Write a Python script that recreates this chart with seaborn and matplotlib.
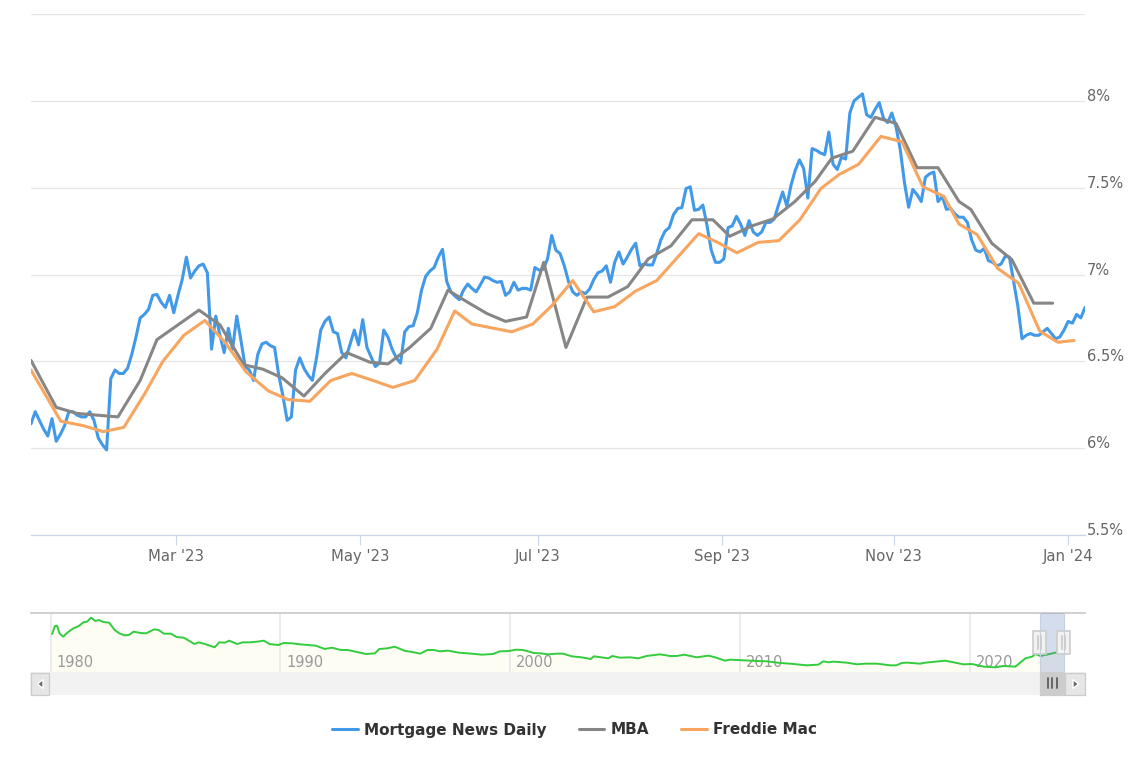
import numpy as np
import pandas as pd
import matplotlib
matplotlib.use("Agg")
import matplotlib.pyplot as plt
import seaborn as sns
from matplotlib.patches import Rectangle, Polygon


# DATA

# daily series, one value per trading session
mnd_rates = [
    6.14, 6.21, 6.16, 6.11, 6.07, 6.17, 6.04, 6.08, 6.13, 6.21,
    6.21, 6.19, 6.18, 6.18, 6.21, 6.16, 6.06, 6.02, 5.99, 6.40,
    6.45, 6.43, 6.43, 6.46, 6.54, 6.64, 6.75, 6.77, 6.80, 6.88,
    6.885, 6.84, 6.81, 6.88, 6.78, 6.88, 6.97, 7.10, 6.98, 7.02,
    7.05, 7.06, 7.01, 6.57, 6.76, 6.65, 6.55, 6.69, 6.57, 6.76,
    6.62, 6.47, 6.45, 6.39, 6.54, 6.60, 6.61, 6.59, 6.58, 6.42,
    6.30, 6.16, 6.18, 6.45, 6.52, 6.46, 6.42, 6.39, 6.52, 6.68,
    6.73, 6.755, 6.67, 6.66, 6.55, 6.52, 6.60, 6.68, 6.595, 6.74,
    6.58, 6.525, 6.47, 6.49, 6.68, 6.64, 6.57, 6.52, 6.49, 6.67,
    6.70, 6.705, 6.78, 6.91, 6.99, 7.02, 7.04, 7.10, 7.145, 6.96,
    6.90, 6.875, 6.855, 6.91, 6.945, 6.92, 6.90, 6.94, 6.985, 6.98,
    6.965, 6.955, 6.96, 6.88, 6.90, 6.955, 6.91, 6.92, 6.92, 6.91,
    7.04, 7.025, 7.03, 7.09, 7.225, 7.14, 7.12, 7.05, 6.96, 6.90,
    6.88, 6.90, 6.89, 6.915, 6.97, 7.01, 7.02, 7.05, 6.955, 7.07,
    7.13, 7.06, 7.10, 7.145, 7.18, 7.05, 7.06, 7.055, 7.055, 7.12,
    7.20, 7.25, 7.27, 7.345, 7.38, 7.385, 7.495, 7.505, 7.37, 7.375,
    7.40, 7.28, 7.14, 7.07, 7.07, 7.09, 7.27, 7.28, 7.335, 7.29,
    7.225, 7.31, 7.245, 7.225, 7.245, 7.30, 7.30, 7.32, 7.40, 7.475,
    7.395, 7.515, 7.60, 7.66, 7.61, 7.44, 7.725, 7.715, 7.70, 7.69,
    7.82, 7.635, 7.605, 7.675, 7.665, 7.93, 8.00, 8.02, 8.04, 7.92,
    7.905, 7.95, 7.99, 7.90, 7.875, 7.93, 7.85, 7.72, 7.53, 7.387,
    7.49, 7.46, 7.42, 7.56, 7.58, 7.59, 7.42, 7.45, 7.375, 7.38,
    7.35, 7.33, 7.33, 7.30, 7.20, 7.14, 7.13, 7.15, 7.08, 7.07,
    7.05, 7.06, 7.105, 7.10, 6.96, 6.82, 6.63, 6.65, 6.66, 6.65,
    6.65, 6.67, 6.69, 6.66, 6.63, 6.64, 6.68, 6.73, 6.72, 6.77, 6.75, 6.81,
]

# weekly surveys, placed on the same session axis
mba_sessions = [
    0, 6, 11, 20.7, 26, 30, 35, 40, 45, 50.7, 55.2, 59.8, 65, 70, 75.2, 80.7,
    85, 90.2, 95.2, 99.3, 104, 108.6, 113, 118, 122.1, 127.4, 132.4, 137.4,
    142.1, 147, 152.4, 157.4, 162.4, 166.4, 171.7, 176.7, 181.9, 186.7, 190.7,
    195.7, 201, 206, 211, 216, 221, 223.8, 228.8, 233.6, 238.8, 243.3,
]
mba_rates = [
    6.505, 6.235, 6.20, 6.18, 6.39, 6.625, 6.71, 6.795, 6.71, 6.48, 6.455,
    6.405, 6.30, 6.43, 6.55, 6.495, 6.485, 6.58, 6.69, 6.91, 6.84, 6.775,
    6.73, 6.755, 7.07, 6.58, 6.87, 6.87, 6.93, 7.09, 7.165, 7.315, 7.315,
    7.22, 7.28, 7.32, 7.42, 7.535, 7.67, 7.71, 7.905, 7.87, 7.615, 7.615,
    7.42, 7.375, 7.18, 7.085, 6.835, 6.835,
]

freddie_sessions = [
    0, 7.1, 12.4, 17.2, 22.1, 27, 31.4, 36.4, 41.4, 46.2, 51.2, 56.5, 61.2,
    66.4, 71.4, 76.4, 81.4, 86.2, 91.4, 96.7, 100.9, 105, 114.5, 119.5, 124,
    129, 134, 139, 144, 149, 154, 159, 163.5, 168.1, 173.2, 178.1, 183.1,
    188.1, 192.4, 197.1, 202.4, 207.4, 212.4, 217.4, 221, 225.3, 230.2, 235.2,
    240.2, 244.5, 248.4,
]
freddie_rates = [
    6.45, 6.155, 6.13, 6.095, 6.12, 6.31, 6.50, 6.65, 6.735, 6.61, 6.44, 6.33,
    6.28, 6.27, 6.39, 6.43, 6.39, 6.35, 6.39, 6.57, 6.79, 6.715, 6.67, 6.715,
    6.82, 6.965, 6.785, 6.815, 6.905, 6.965, 7.10, 7.235, 7.185, 7.125, 7.185,
    7.195, 7.315, 7.495, 7.575, 7.635, 7.795, 7.765, 7.505, 7.45, 7.29, 7.23,
    7.035, 6.95, 6.675, 6.61, 6.62,
]

# long history in the navigator
nav_years = [
    1980.07, 1980.19, 1980.28, 1980.39, 1980.55, 1980.73, 1980.97, 1981.23,
    1981.43, 1981.59, 1981.76, 1981.95, 1982.10, 1982.29, 1982.55, 1982.79,
    1982.99, 1983.22, 1983.41, 1983.61, 1983.92, 1984.16, 1984.51, 1984.70,
    1984.93, 1985.24, 1985.48, 1985.79, 1986.02, 1986.26, 1986.44, 1986.72,
    1987.14, 1987.34, 1987.58, 1987.77, 1988.12, 1988.36, 1988.67, 1988.98,
    1989.29, 1989.52, 1989.91, 1990.14, 1990.53, 1990.84, 1991.54, 1991.93,
    1992.24, 1992.63, 1992.94, 1993.33, 1993.72, 1994.11, 1994.30, 1994.65,
    1994.97, 1995.43, 1995.67, 1996.08, 1996.40, 1996.68, 1996.94, 1997.30,
    1997.76, 1998.15, 1998.77, 1999.24, 1999.55, 1999.94, 2000.25, 2000.56,
    2001.03, 2001.29, 2001.65, 2002.02, 2002.30, 2002.67, 2003.10, 2003.50,
    2003.64, 2003.97, 2004.26, 2004.44, 2004.77, 2005.21, 2005.57, 2005.93,
    2006.51, 2006.95, 2007.24, 2007.56, 2008.11, 2008.62, 2008.91, 2009.34,
    2009.56, 2010.14, 2010.72, 2011.16, 2011.73, 2012.17, 2012.90, 2013.40,
    2013.62, 2013.84, 2014.06, 2014.64, 2015.08, 2015.44, 2015.95, 2016.53,
    2016.79, 2017.03, 2017.25, 2017.83, 2018.05, 2018.92, 2019.72, 2020.08,
    2020.59, 2021.10, 2021.45, 2021.97, 2022.41, 2022.70, 2022.84, 2023.06,
    2023.79, 2024.06,
]
nav_rates = [
    13.33, 15.92, 16.03, 13.55, 12.47, 13.76, 15.06, 15.92, 17.11, 17.32,
    18.62, 17.54, 17.86, 17.21, 17.00, 14.62, 13.55, 12.90, 13.01, 14.09,
    13.65, 13.55, 14.84, 14.62, 13.44, 13.44, 12.36, 12.14, 11.17, 10.09,
    10.63, 10.09, 9.02, 10.63, 10.53, 11.17, 10.09, 10.63, 10.63, 10.85,
    11.17, 10.09, 9.77, 10.42, 10.31, 9.99, 9.56, 8.48, 8.91, 8.15, 8.15,
    7.51, 6.86, 7.07, 8.48, 8.69, 9.23, 7.83, 7.61, 6.97, 8.15, 8.15, 7.72,
    7.94, 7.29, 7.07, 6.64, 6.86, 7.72, 7.83, 8.26, 8.15, 7.18, 7.08, 6.75,
    6.97, 6.97, 6.11, 5.78, 5.24, 6.11, 5.78, 5.46, 6.21, 5.67, 5.78, 5.46,
    6.21, 6.75, 6.21, 6.21, 6.64, 5.78, 6.32, 5.78, 4.70, 5.03, 4.81, 4.60,
    4.49, 3.95, 3.73, 3.19, 3.41, 4.49, 4.17, 4.38, 4.06, 3.52, 3.73, 3.73,
    3.19, 3.19, 3.95, 4.06, 3.73, 4.05, 4.70, 3.51, 3.62, 2.76, 2.54, 2.97,
    2.76, 5.46, 6.00, 6.86, 6.21, 7.40, 7.07,
]

month_ticks = [34.5, 78.3, 120.7, 164.5, 205.5, 246.9]
month_labels = ["Mar '23", "May '23", "Jul '23", "Sep '23", "Nov '23", "Jan '24"]

rate_ticks = [5.5, 6, 6.5, 7, 7.5, 8, 8.5]
rate_labels = ["5.5%", "6%", "6.5%", "7%", "7.5%", "8%", ""]

nav_ticks = [1980, 1990, 2000, 2010, 2020]


# STYLE

sns.set_theme(style="white")
plt.rcParams["font.family"] = ["DejaVu Sans"]

BLUE = "#4299e8"
GREY = "#868686"
ORANGE = "#f7a55f"
GREEN = "#33cc3d"

W, H = 1141, 767


def px_axes(fig, left, top, right, bottom, **kwargs):
    return fig.add_axes(
        [left / W, 1 - bottom / H, (right - left) / W, (bottom - top) / H],
        **kwargs
    )


fig = plt.figure(figsize=(W / 100, H / 100), dpi=100)


# MAIN CHART

ax = px_axes(fig, 31, 14, 1085, 535)

daily = pd.DataFrame({"session": np.arange(len(mnd_rates)), "rate": mnd_rates})
mba = pd.DataFrame({"session": mba_sessions, "rate": mba_rates})
freddie = pd.DataFrame({"session": freddie_sessions, "rate": freddie_rates})

sns.lineplot(data=daily, x="session", y="rate", ax=ax, color=BLUE,
             linewidth=2.2, label="Mortgage News Daily", errorbar=None)
sns.lineplot(data=mba, x="session", y="rate", ax=ax, color=GREY,
             linewidth=2.2, label="MBA", errorbar=None)
sns.lineplot(data=freddie, x="session", y="rate", ax=ax, color=ORANGE,
             linewidth=2.2, label="Freddie Mac", errorbar=None)

ax.set_xlim(0, 251)
ax.set_ylim(5.5, 8.5)
ax.set_xlabel("")
ax.set_ylabel("")

ax.set_xticks(month_ticks)
ax.set_xticklabels(month_labels)
ax.set_yticks(rate_ticks)
ax.set_yticklabels(rate_labels)

ax.yaxis.tick_right()
ax.tick_params(axis="y", length=0, pad=1.5, labelsize=10.5, labelcolor="#666666")
ax.tick_params(axis="x", bottom=True, length=7, width=0.8, color="#ccd6eb",
               pad=3, labelsize=10.7, labelcolor="#666666")
for lab in ax.get_yticklabels():
    lab.set_verticalalignment("baseline")

ax.grid(axis="y", color="#e6e6e6", linewidth=0.9)
ax.set_axisbelow(True)
for side in ["top", "left", "right"]:
    ax.spines[side].set_visible(False)
ax.spines["bottom"].set_color("#ccd6eb")
ax.spines["bottom"].set_linewidth(0.9)

handles, labels = ax.get_legend_handles_labels()
ax.get_legend().remove()


# NAVIGATOR

nav = px_axes(fig, 31, 613, 1085, 672)

nav.fill_between(nav_years, nav_rates, 0, color="#fdfdf3", linewidth=0, zorder=1)
for year in nav_ticks:
    nav.axvline(year, color="#e6e6e6", linewidth=1.1, zorder=2)
    nav.text(year + 0.26, 0.16, str(year), color="#999999", fontsize=10.5,
             va="center", ha="left", transform=nav.get_xaxis_transform(), zorder=2)
sns.lineplot(x=nav_years, y=nav_rates, ax=nav, color=GREEN, linewidth=1.4,
             errorbar=None, zorder=3)

nav.set_xlim(1979.15, 2025.0)
nav.set_ylim(1.03, 20.13)
nav.set_xticks([])
nav.set_yticks([])
for side in ["left", "right", "bottom"]:
    nav.spines[side].set_visible(False)
nav.spines["top"].set_color("#cccccc")
nav.spines["top"].set_linewidth(1.3)


# SCROLLBAR, MASK AND HANDLES

chrome = fig.add_axes([0, 0, 1, 1], zorder=5)
chrome.set_xlim(0, W)
chrome.set_ylim(H, 0)
chrome.axis("off")
chrome.patch.set_alpha(0)


def box(x0, y0, x1, y1, face, edge="none", lw=0, alpha=None):
    chrome.add_patch(Rectangle((x0, y0), x1 - x0, y1 - y0, facecolor=face,
                               edgecolor=edge, linewidth=lw, alpha=alpha))


# selected range on the navigator
box(1040, 613, 1064, 672, "#6685c2", alpha=0.28)
chrome.plot([1040, 1040], [613, 672], color="#c6cfde", linewidth=0.8)
chrome.plot([1064, 1064], [613, 672], color="#c6cfde", linewidth=0.8)

# scrollbar track and buttons
box(30, 672, 1085, 695, "#f2f2f2")
box(30.5, 672.5, 49, 694.5, "#e6e6e6", "#cccccc", 0.9)
box(1065, 672.5, 1085, 694.5, "#e6e6e6", "#cccccc", 0.9)
box(1040, 672, 1064, 694.5, "#cccccc", "#cccccc", 0.9)
chrome.add_patch(Polygon([[43, 679.5], [43, 688.5], [37.5, 684]], facecolor="#666666"))
chrome.add_patch(Polygon([[1073, 679.5], [1073, 688.5], [1078.5, 684]], facecolor="#666666"))
for x in [1047.7, 1052.3, 1057.3]:
    chrome.plot([x, x], [678, 688], color="#666666", linewidth=1.4)

# navigator handles
for x in [1039.5, 1063.5]:
    box(x - 6.5, 631, x + 6.5, 654, "#f2f2f2", "#cccccc", 1.2)
    chrome.plot([x - 1.7, x - 1.7], [636, 649], color="#cccccc", linewidth=1.3)
    chrome.plot([x + 1.7, x + 1.7], [636, 649], color="#cccccc", linewidth=1.3)


# LEGEND

legend = fig.legend(
    handles, labels,
    loc="center",
    bbox_to_anchor=(574.5 / W, 1 - 730 / H),
    ncol=3,
    frameon=False,
    prop={"size": 11, "weight": "bold"},
    handlelength=1.7,
    handletextpad=0.4,
    columnspacing=2.1,
    labelcolor="#333333",
)

plt.savefig("out.png", dpi=100)
